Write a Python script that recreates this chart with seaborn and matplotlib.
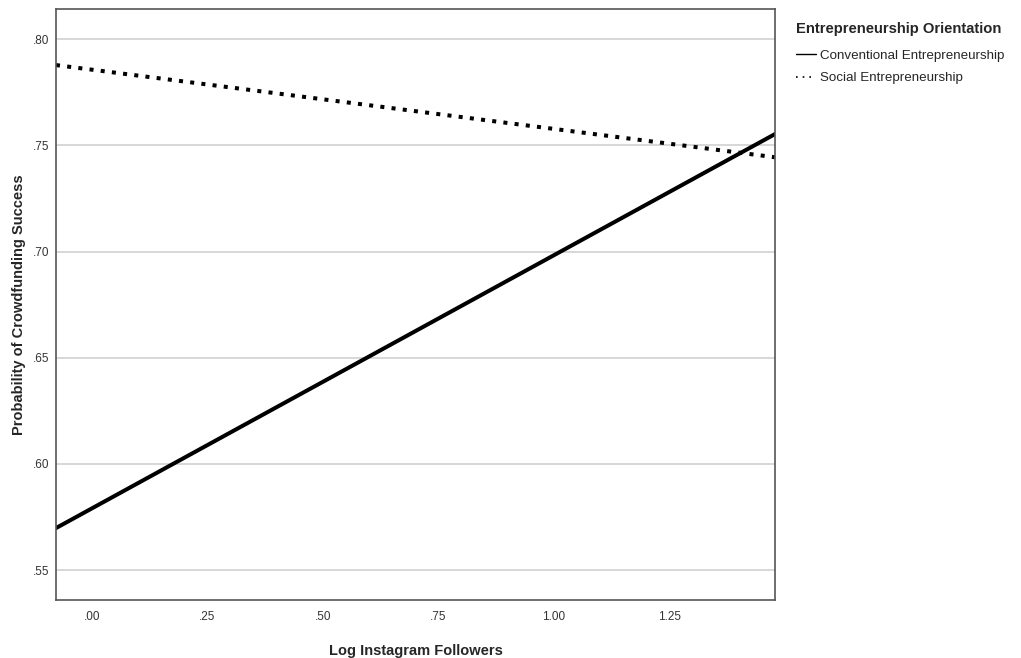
import pandas as pd
import matplotlib
matplotlib.use('Agg')
import matplotlib.pyplot as plt
import seaborn as sns
from matplotlib.lines import Line2D

# predicted probabilities read at the left and right edges of the plot
log_followers = [-0.078, 1.478]
conventional = [0.5698, 0.7553]
social = [0.7878, 0.7444]
groups = ['Conventional Entrepreneurship', 'Social Entrepreneurship']
y_ticks = [0.55, 0.60, 0.65, 0.70, 0.75, 0.80]
x_ticks = [0.0, 0.25, 0.50, 0.75, 1.00, 1.25]

df = pd.DataFrame({
    'Log Instagram Followers': log_followers * 2,
    'Probability of Crowdfunding Success': conventional + social,
    'Entrepreneurship Orientation': [groups[0]] * 2 + [groups[1]] * 2,
})

sns.set_style('white')
plt.rcParams['font.family'] = ['Liberation Sans', 'DejaVu Sans']

fig = plt.figure(figsize=(10.21, 6.58), dpi=100)
ax = fig.add_axes([0.0548, 0.088, 0.7042, 0.898])

sns.lineplot(data=df, x='Log Instagram Followers',
             y='Probability of Crowdfunding Success',
             hue='Entrepreneurship Orientation',
             style='Entrepreneurship Orientation',
             palette=['black', 'black'],
             dashes=['', (1, 1.8)], linewidth=2.9, ax=ax, legend=False)
ax.lines[1].set_dash_capstyle('butt')

ax.set_xlim(-0.078, 1.478)
ax.set_ylim(0.5359, 0.8141)
ax.set_yticks(y_ticks)
ax.set_yticklabels(['.55', '.60', '.65', '.70', '.75', '.80'])
ax.set_xticks(x_ticks)
ax.set_xticklabels(['.00', '.25', '.50', '.75', '1.00', '1.25'])
ax.tick_params(axis='both', labelsize=8.5, colors='#333333', length=0, pad=8)
ax.tick_params(axis='y', length=3, color='#888888', pad=2)
ax.yaxis.grid(True, color='#d4d4d4', linewidth=1.3)
ax.set_axisbelow(True)
for s in ax.spines.values():
    s.set_color('#555555')
    s.set_linewidth(1.2)

ax.set_xlabel('Log Instagram Followers', fontsize=10.5, fontweight='bold', labelpad=15)
ax.set_ylabel('Probability of Crowdfunding Success', fontsize=10.5, fontweight='bold', labelpad=5)

handles = [Line2D([], [], color='black', linewidth=1),
           Line2D([], [], color='black', linewidth=1.2, linestyle=(0, (1, 3)))]
leg = fig.legend(handles, groups, title='Entrepreneurship Orientation',
                 loc='upper left', bbox_to_anchor=(0.768, 0.985), frameon=False,
                 fontsize=9.6, title_fontproperties={'weight': 'bold', 'size': 10.6},
                 handlelength=1.5, handletextpad=0.3, labelspacing=0.75,
                 alignment='left')
leg._legend_box.sep = 10

fig.savefig('out.png', dpi=100)
